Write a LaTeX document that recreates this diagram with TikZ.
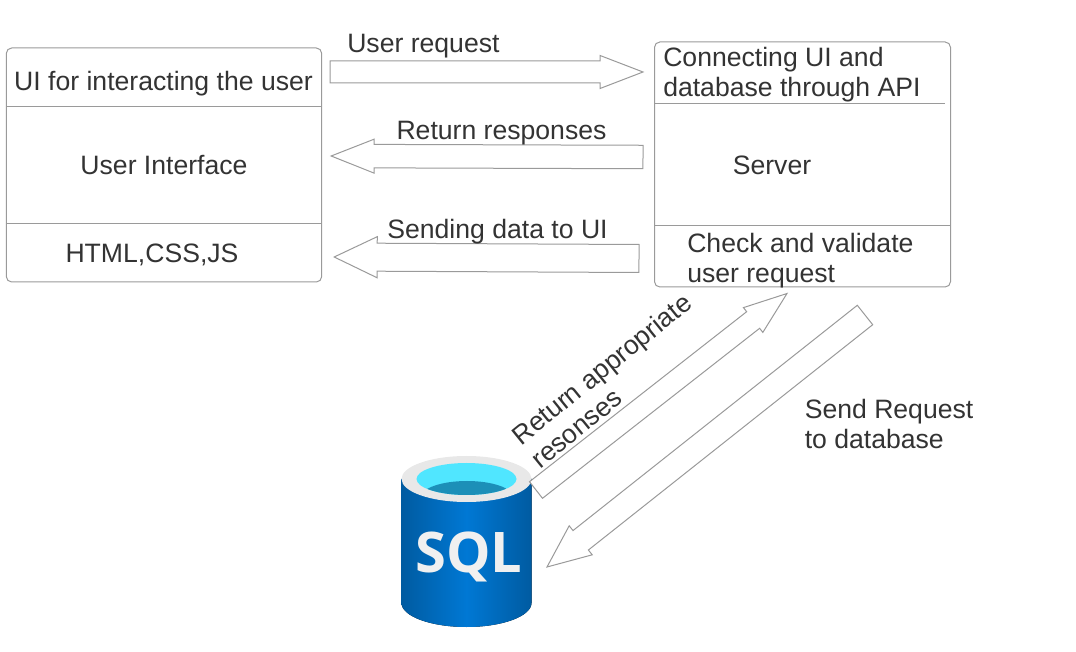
\documentclass[tikz,border=0pt]{standalone}
\usepackage{fontspec}
\setmainfont{Liberation Sans}
\newfontfamily\logofont{Open Sans}
\usetikzlibrary{calc}
\definecolor{labelgray}{HTML}{333333}
\definecolor{edgegray}{HTML}{9A9A9A}
\definecolor{sqlblue}{HTML}{0078D4}
\definecolor{sqldark}{HTML}{005BA1}
\definecolor{sqlrim}{HTML}{E8E8E8}
\definecolor{sqlcyan}{HTML}{50E6FF}
\definecolor{sqlwater}{HTML}{1C8FB8}

\begin{document}
\begin{tikzpicture}[
    x=0.75pt, y=-0.75pt,
    every node/.style={font=\fontsize{19.95}{22.5}\selectfont, text=labelgray, inner sep=0pt},
    box/.style={draw=edgegray, line width=0.75pt, rounded corners=4pt, inner sep=0pt},
    divider/.style={draw=edgegray, line width=0.75pt},
    blockarrow/.style 2 args={draw=edgegray, fill=white, line width=0.75pt, to path={
        -- ($(\tikztostart)!#1!90:(\tikztotarget)$)
        -- ($(\tikztotarget)!32.25pt!(\tikztostart)!#1!90:(\tikztotarget)$)
        -- ($(\tikztotarget)!32.25pt!(\tikztostart)!#2!90:(\tikztotarget)$)
        -- (\tikztotarget)
        -- ($(\tikztotarget)!32.25pt!(\tikztostart)!#2!-90:(\tikztotarget)$)
        -- ($(\tikztotarget)!32.25pt!(\tikztostart)!#1!-90:(\tikztotarget)$)
        -- ($(\tikztostart)!#1!-90:(\tikztotarget)$)
        -- cycle}}
]
    \useasboundingbox (0,0) rectangle (1076,652);

    % ---- User interface ----
    \node[box, minimum width=236.5pt, minimum height=175.5pt] (uibox) at (164,165) {};
    \draw[divider] (uibox.west |- 0,106.5) -- (uibox.east |- 0,106.5);
    \draw[divider] (uibox.west |- 0,223.5) -- (uibox.east |- 0,223.5);
    \node (uititle) at (163.5,83.5) {UI for interacting the user};
    \node (uiname) at (164,165.5) {User Interface};
    \node (uitech) at (152,254.5) {HTML,CSS,JS};

    % ---- Server ----
    \node[box, minimum width=222pt, minimum height=183.75pt] (srvbox) at (802.5,164.5) {};
    \draw[divider] (srvbox.west |- 0,103.5) -- (945,103.5);
    \draw[divider] (srvbox.west |- 0,226) -- (srvbox.east |- 0,226);
    \node[anchor=west, align=left] (srvtitle) at (663,74.5) {Connecting UI and\\database through API};
    \node (srvname) at (772,165.5) {Server};
    \node[anchor=west, align=left] (srvcheck) at (687,260.5) {Check and validate\\user request};

    % ---- SQL logo ----
    \fill[left color=sqldark, right color=sqldark, middle color=sqlblue]
        (401.5,479) -- (401.5,603) arc[start angle=180, end angle=360, x radius=48.75pt, y radius=18pt]
        -- (531.5,479) -- cycle;
    \fill[sqlrim] (466.5,479) ellipse [x radius=65, y radius=23];
    \fill[sqlcyan] (466.5,479) ellipse [x radius=50, y radius=16];
    \begin{scope}
        \clip (466.5,479) ellipse [x radius=50, y radius=16];
        \fill[sqlwater] (467,497) ellipse [x radius=46, y radius=16];
    \end{scope}
    \node[font=\logofont\fontsize{42}{42}\selectfont\bfseries, text=white!94!black] (sql) at (469,557) {SQL};

    % ---- Relationships ----
    \draw[blockarrow={8.25pt}{12.4pt}] ([shift={(8,-93)}]uibox.east) to ([shift={(-11,-92.5)}]srvbox.west);
    \draw[blockarrow={8.8pt}{12.75pt}] ([shift={(-11,-7.5)}]srvbox.west) to ([shift={(9,-9)}]uibox.east);
    \draw[blockarrow={10.5pt}{15.4pt}] ([shift={(-15,94)}]srvbox.west) to ([shift={(12,92)}]uibox.east);
    \draw[blockarrow={7.9pt}{11.8pt}] ([shift={(67,-67)}]sql.center) to ([shift={(-15.5,6)}]srvbox.south);
    \draw[blockarrow={9.3pt}{13.9pt}] ([shift={(62.5,27.5)}]srvbox.south) to ([shift={(78,10)}]sql.center);

    % ---- Labels ----
    \node[anchor=west] (reqlabel) at (347,46) {User request};
    \node (resplabel) at (501.5,133.5) {Return responses};
    \node (datalabel) at (497.5,232) {Sending data to UI};
    \node[rotate=39, align=left] (retlabel) at (611,380.5) {Return appropriate\\resonses};
    \node[anchor=west, align=left] (sendlabel) at (804.5,423.5) {Send Request\\to database};
\end{tikzpicture}
\end{document}
